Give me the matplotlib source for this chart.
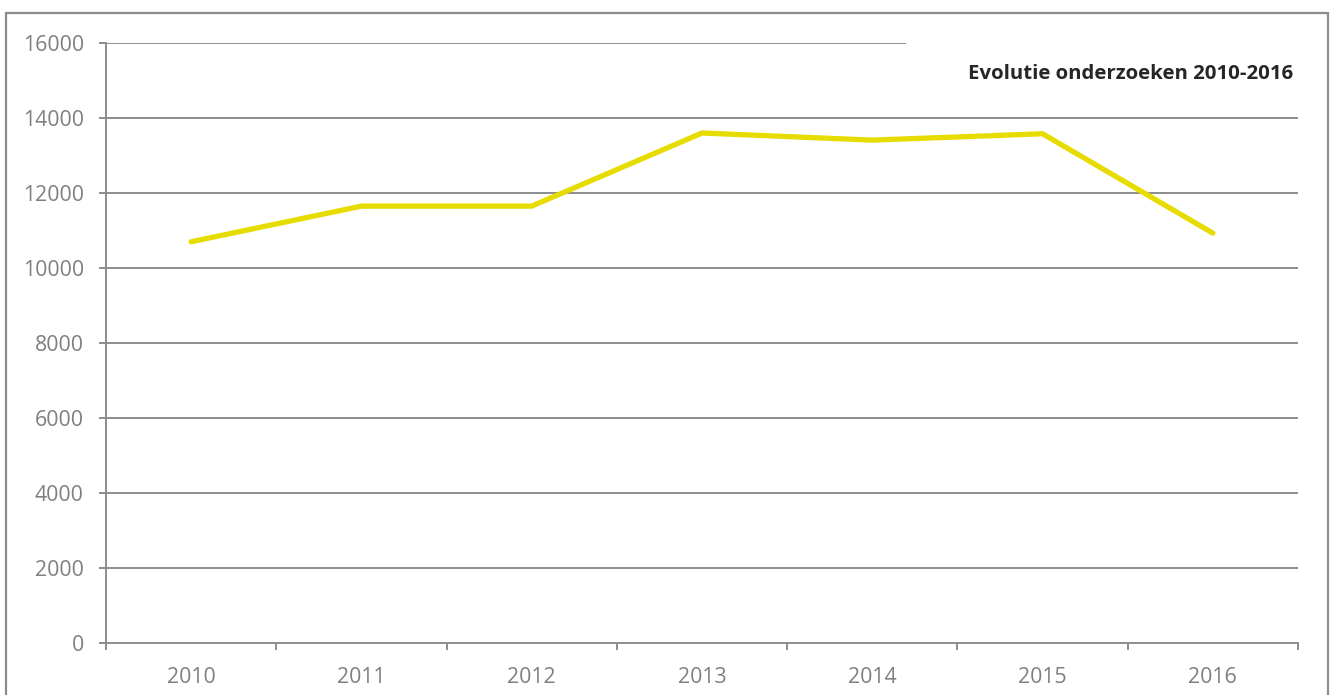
import matplotlib
matplotlib.use("Agg")
import matplotlib.pyplot as plt
from matplotlib.patches import Rectangle

years = ["2010", "2011", "2012", "2013", "2014", "2015", "2016"]
values = [10700, 11650, 11650, 13600, 13410, 13580, 10930]
yticks = [0, 2000, 4000, 6000, 8000, 10000, 12000, 14000, 16000]
title = "Evolutie onderzoeken 2010-2016"

plt.rcParams['font.family'] = ['Open Sans', 'DejaVu Sans']
gray = "#8c8c8c"
txt = "#7f7f7f"

W, H = 1331, 695
fig = plt.figure(figsize=(W / 100, H / 100), dpi=100)
ax = fig.add_axes([106 / W, 1 - 643 / H, (1298 - 106) / W, (643 - 43) / H])

x = list(range(len(years)))
ax.set_xlim(-0.5, len(years) - 0.5)
ax.set_ylim(0, 16000)

for v in yticks[1:]:
    xmax = 0.67 if v == 16000 else 1.0
    ax.axhline(v, xmin=0, xmax=xmax, color=gray, lw=1.4, zorder=1)

ax.plot(x, values, color="#e6dc00", lw=3.8, solid_capstyle="round",
        solid_joinstyle="round", zorder=3)

for s in ["top", "right"]:
    ax.spines[s].set_visible(False)
for s in ["left", "bottom"]:
    ax.spines[s].set_color(gray)
    ax.spines[s].set_linewidth(1.4)

ax.set_yticks(yticks)
ax.set_yticklabels([str(v) for v in yticks])
ax.tick_params(axis="y", length=5, width=1.4, color=gray, labelcolor=txt,
               labelsize=15.3, pad=11)

ax.set_xticks(x)
ax.set_xticklabels(years)
ax.tick_params(axis="x", which="major", length=0, labelcolor=txt,
               labelsize=15.3, pad=17)
ax.set_xticks([i - 0.5 for i in range(len(years) + 1)], minor=True)
ax.tick_params(axis="x", which="minor", length=5, width=1.4, color=gray)

ax.text(0.996, 0.965, title, transform=ax.transAxes, ha="right", va="top",
        fontsize=14.7, fontweight="bold", color="#262626")

border = Rectangle((6 / W, -0.05), (1328 - 6) / W, 1 - 13 / H + 0.05,
                   transform=fig.transFigure, fill=False, edgecolor=gray,
                   lw=1.6, zorder=10)
fig.patches.append(border)

fig.savefig("out.png", dpi=100)
